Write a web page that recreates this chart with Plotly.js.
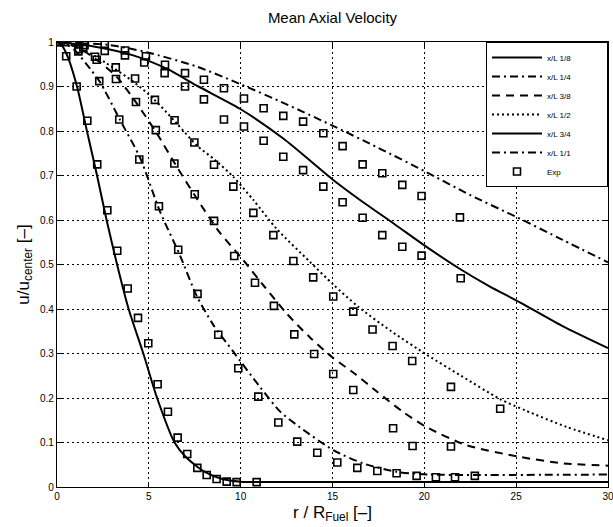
<!DOCTYPE html>
<html>
<head>
<meta charset="utf-8">
<script src="https://cdn.plot.ly/plotly-3.0.1.min.js"></script>
<style>html,body{margin:0;padding:0;background:#fff;}#chart{width:613px;height:527px;}</style>
</head>
<body>
<div id="chart"></div>
<script>
// ---- model curves ----
const seriesNames = ["x/L 1/8", "x/L 1/4", "x/L 3/8", "x/L 1/2", "x/L 3/4", "x/L 1/1"];

const line18_x = [0, 0.3, 0.6, 1.09, 1.63, 2.18, 2.7, 3.27, 3.9, 4.7, 5.45, 6.4, 7.0, 8.0, 9.0, 10.0, 12, 30];
const line18_y = [1, 0.99, 0.965, 0.9, 0.8, 0.7, 0.6, 0.5, 0.4, 0.3, 0.2, 0.1, 0.068, 0.035, 0.018, 0.012, 0.011, 0.011];

const line14_x = [0, 0.5, 1, 1.8, 2.34, 3.43, 4.52, 5.6, 6.7, 7.6, 8.5, 9.6, 11.05, 12.14, 13.2, 15.04, 16.67, 18.49, 20.3, 23, 30];
const line14_y = [1, 0.995, 0.98, 0.94, 0.91, 0.825, 0.74, 0.62, 0.52, 0.43, 0.365, 0.304, 0.225, 0.17, 0.135, 0.083, 0.053, 0.034, 0.028, 0.027, 0.028];

const line38_x = [0, 1, 2, 3.25, 4.34, 5.43, 6.52, 7.6, 8.8, 10.14, 11.3, 12.5, 13.8, 15.04, 16.2, 17.4, 18.8, 20.1, 22.3, 25.15, 27.6, 30];
const line38_y = [1, 0.99, 0.965, 0.922, 0.862, 0.795, 0.72, 0.649, 0.575, 0.51, 0.45, 0.39, 0.335, 0.29, 0.255, 0.215, 0.17, 0.135, 0.094, 0.068, 0.053, 0.048];

const line12_x = [0, 1, 2, 2.7, 4.15, 5.24, 6.52, 7.6, 8.6, 9.6, 10.69, 11.96, 13.77, 15.04, 16.4, 18.2, 20.1, 22, 24.1, 25.5, 27.75, 30];
const line12_y = [1, 0.99, 0.97, 0.952, 0.911, 0.873, 0.817, 0.768, 0.735, 0.697, 0.645, 0.58, 0.506, 0.455, 0.405, 0.35, 0.298, 0.25, 0.198, 0.172, 0.135, 0.105];

const line34_x = [0, 2, 4.15, 5.97, 7.7, 9.96, 12.32, 15.04, 16.5, 18.4, 20, 21.9, 23.5, 25.2, 27.5, 30];
const line34_y = [1, 0.99, 0.97, 0.94, 0.9, 0.85, 0.783, 0.69, 0.645, 0.59, 0.543, 0.491, 0.452, 0.415, 0.362, 0.312];

const line11_x = [0, 2.9, 4.88, 7.6, 10, 12.5, 15, 17.5, 20, 22.5, 25, 27.5, 30];
const line11_y = [1, 0.993, 0.977, 0.945, 0.905, 0.86, 0.812, 0.762, 0.71, 0.656, 0.607, 0.556, 0.505];

// ---- experimental points ----
const exp18_x = [0, 0.5, 1.07, 1.65, 2.19, 2.74, 3.28, 3.85, 4.41, 4.97, 5.48, 6.04, 6.57, 7.09, 7.64, 8.15, 8.69, 9.24, 9.78, 10.87];
const exp18_y = [1, 0.968, 0.9, 0.823, 0.725, 0.622, 0.531, 0.446, 0.38, 0.323, 0.231, 0.169, 0.111, 0.074, 0.043, 0.027, 0.018, 0.012, 0.011, 0.011];

const exp14_x = [0.1, 1.16, 2.3, 3.39, 4.48, 5.55, 6.6, 7.65, 8.78, 9.87, 10.96, 12.05, 13.08, 14.17, 15.26, 16.35, 17.44, 18.49, 19.58, 20.63, 21.67, 22.75];
const exp14_y = [1, 0.979, 0.912, 0.826, 0.736, 0.631, 0.533, 0.434, 0.342, 0.267, 0.203, 0.145, 0.102, 0.077, 0.055, 0.043, 0.036, 0.031, 0.025, 0.022, 0.022, 0.025];

const exp38_x = [0.1, 1.2, 2.16, 3.21, 4.3, 5.38, 6.39, 7.5, 8.55, 9.65, 10.78, 11.81, 12.92, 14.0, 15.04, 16.13, 18.3, 19.36, 21.45];
const exp38_y = [1, 0.984, 0.96, 0.917, 0.865, 0.802, 0.727, 0.658, 0.598, 0.519, 0.459, 0.407, 0.343, 0.299, 0.254, 0.218, 0.132, 0.092, 0.091];

const exp12_x = [0.1, 1.43, 2.07, 3.2, 4.25, 5.33, 6.4, 7.48, 8.55, 9.6, 10.69, 11.78, 12.87, 13.95, 15.04, 16.13, 17.18, 18.27, 19.34, 21.45, 24.13];
const exp12_y = [1, 0.988, 0.967, 0.943, 0.918, 0.87, 0.824, 0.774, 0.724, 0.675, 0.616, 0.566, 0.508, 0.471, 0.428, 0.394, 0.354, 0.317, 0.283, 0.225, 0.176];

const exp34_x = [0.4, 1.5, 2.6, 3.7, 4.75, 5.86, 6.97, 8.0, 9.09, 10.18, 11.25, 12.32, 13.4, 14.5, 15.55, 16.64, 17.71, 18.8, 19.85, 21.98];
const exp34_y = [1, 0.993, 0.98, 0.97, 0.954, 0.93, 0.9, 0.871, 0.826, 0.81, 0.778, 0.742, 0.712, 0.675, 0.64, 0.605, 0.566, 0.54, 0.52, 0.469];

const exp11_x = [0.4, 1.5, 2.6, 3.7, 4.84, 5.88, 6.97, 8.0, 9.09, 10.18, 11.25, 12.32, 13.4, 14.5, 15.55, 16.64, 17.71, 18.8, 19.85, 21.94];
const exp11_y = [1, 1, 0.994, 0.981, 0.968, 0.949, 0.93, 0.915, 0.896, 0.873, 0.851, 0.834, 0.821, 0.795, 0.766, 0.725, 0.705, 0.679, 0.654, 0.606];

const xTicks = [0, 5, 10, 15, 20, 25, 30];
const yTicks = [0, 0.1, 0.2, 0.3, 0.4, 0.5, 0.6, 0.7, 0.8, 0.9, 1];

const lineSets = [[line18_x, line18_y], [line14_x, line14_y], [line38_x, line38_y], [line12_x, line12_y], [line34_x, line34_y], [line11_x, line11_y]];
const expSets = [[exp18_x, exp18_y], [exp14_x, exp14_y], [exp38_x, exp38_y], [exp12_x, exp12_y], [exp34_x, exp34_y], [exp11_x, exp11_y]];
const dashes = ["solid", "8px,4px,2px,4px", "8px,6px", "2px,3px", "solid", "8px,4px,2px,4px"];

const pad = "\u00a0".repeat(14);
const traces = [];
lineSets.forEach((s, i) => {
  traces.push({
    x: s[0], y: s[1], type: "scatter", mode: "lines", name: seriesNames[i] + pad,
    line: {color: "#000", width: 2, dash: dashes[i], shape: "spline", smoothing: 0.7},
    hoverinfo: "skip"
  });
});
expSets.forEach((s, i) => {
  traces.push({
    x: s[0], y: s[1], type: "scatter", mode: "markers", name: "Exp" + pad,
    showlegend: i === 0,
    marker: {symbol: "square-open", size: 7, color: "#000", line: {width: 1.6, color: "#000"}},
    hoverinfo: "skip"
  });
});

const font = "Liberation Sans, Arial, Helvetica, sans-serif";
const layout = {
  width: 613, height: 527,
  margin: {l: 57, r: 5, t: 42, b: 40},
  paper_bgcolor: "#fff", plot_bgcolor: "#fff",
  font: {family: font, color: "#000", size: 11},
  title: {text: "Mean Axial Velocity", font: {family: font, size: 15, color: "#000"},
          x: 0.5, xref: "paper", xanchor: "center", y: 1 - 18 / 527, yref: "container", yanchor: "middle"},
  xaxis: {
    range: [0, 30], tickvals: xTicks, ticktext: xTicks.map(String),
    ticks: "inside", ticklen: 5, tickcolor: "#000", ticklabeloverflow: "allow",
    showline: true, linecolor: "#000", linewidth: 1.2, mirror: "ticks",
    showgrid: true, gridcolor: "#000", gridwidth: 1, griddash: "2px,3px",
    zeroline: false, tickfont: {size: 10},
    title: {text: "r / R<sub>Fuel</sub> [–]", font: {size: 17}, standoff: 4}
  },
  yaxis: {
    range: [0, 1], tickvals: yTicks, ticktext: yTicks.map(v => String(v)),
    ticks: "inside", ticklen: 5, tickcolor: "#000", ticklabeloverflow: "allow",
    showline: true, linecolor: "#000", linewidth: 1.2, mirror: "ticks",
    showgrid: true, gridcolor: "#000", gridwidth: 1, griddash: "2px,3px",
    zeroline: false, tickfont: {size: 10},
    title: {text: "u/u<sub>center</sub> [–]", font: {size: 17}, standoff: 6}
  },
  showlegend: true,
  legend: {
    x: 1, xanchor: "right", y: 1, yanchor: "top",
    bgcolor: "#fff", bordercolor: "#000", borderwidth: 1,
    font: {size: 8, family: font},
    itemwidth: 50, tracegroupgap: 0
  }
};

Plotly.newPlot("chart", traces, layout, {staticPlot: true, displayModeBar: false});
</script>
</body>
</html>
